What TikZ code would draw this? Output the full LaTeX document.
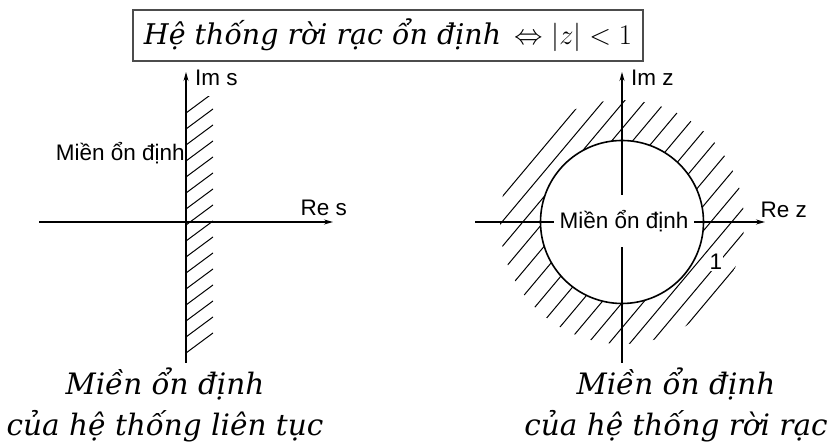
\RequirePackage{fix-cm}
\documentclass[tikz,border=0pt]{standalone}
\usepackage{fontspec}
\setmainfont{DejaVu Serif}
\setsansfont{Liberation Sans}
\usetikzlibrary{arrows.meta}

\begin{document}
\begin{tikzpicture}[x=1pt,y=1pt,
    axis/.style={line width=1.2pt,-{Stealth[length=9pt,width=5pt]}},
    hatch/.style={line width=1pt},
    lbl/.style={font=\sffamily\fontsize{22.5}{22.5}\selectfont,inner sep=1pt},
    captxt/.style={font=\itshape\fontsize{29.5}{41}\selectfont,align=center}]
    \useasboundingbox (0,0) rectangle (828,446);
    % -------------------------
    % Title
    % -------------------------
    \node[draw=black!70,line width=1.5pt,minimum width=510,minimum height=51,inner sep=0pt,
      font=\itshape\fontsize{28.5}{28.5}\selectfont] (title) at (388,410.5)
      {Hệ thống rời rạc ổn định \,$\Leftrightarrow \bigl|z\bigr| < 1$};

    % -------------------------
    % Left plane (s)
    % -------------------------
    \coordinate (lh0) at (39,224);
    \coordinate (lh1) at (333,224);
    \coordinate (lv0) at (186,83);
    \coordinate (lv1) at (186,374);
    % hatching right of the imaginary axis
    \begin{scope}
      \clip (186,91) rectangle (213,349);
      \foreach \y in {93,109,...,333}
        \draw[hatch] (186,\y) -- ++(27,20);
    \end{scope}
    \draw[axis] (lh0) -- (lh1);
    \draw[axis] (lv0) -- (lv1);
    \node[lbl,anchor=west] (ims) at (194,368) {Im s};
    \node[lbl,anchor=east] (res) at (348,238) {Re s};
    \node[lbl,anchor=east] (stabs) at (186,293) {Miền ổn định};

    % -------------------------
    % Right plane (z)
    % -------------------------
    \coordinate (o) at (622,224);
    \coordinate (rh0) at (475,224);
    \coordinate (rh1) at (765,224);
    \coordinate (rv0) at (622,83);
    \coordinate (rv1) at (622,374);
    % hatching outside the unit circle
    \begin{scope}
      \clip (o) circle (122);
      \foreach \d in {-108,-92,...,116}
        \draw[hatch] (o) ++(-40:\d) ++(230:130) -- ++(50:260);
    \end{scope}
    \fill[white] (o) circle (81.5);
    \draw[axis] (rh0) -- (rh1);
    \draw[axis] (rv0) -- (rv1);
    \draw[line width=1.6pt] (o) circle (81.5);
    \node[lbl,fill=white,inner xsep=6pt,inner ysep=15pt] (stabz) at (624,225) {Miền ổn định};
    \node[lbl,fill=white] (one) at (716,184) {1};
    \node[lbl,anchor=west] (imz) at (630,368) {Im z};
    \node[lbl,anchor=east] (rez) at (808,236) {Re z};

    % -------------------------
    % Captions
    % -------------------------
    \node[captxt] (capl) at (165,41) {Miền ổn định\\của hệ thống liên tục};
    \node[captxt] (capr) at (676,41) {Miền ổn định\\của hệ thống rời rạc};
\end{tikzpicture}
\end{document}
